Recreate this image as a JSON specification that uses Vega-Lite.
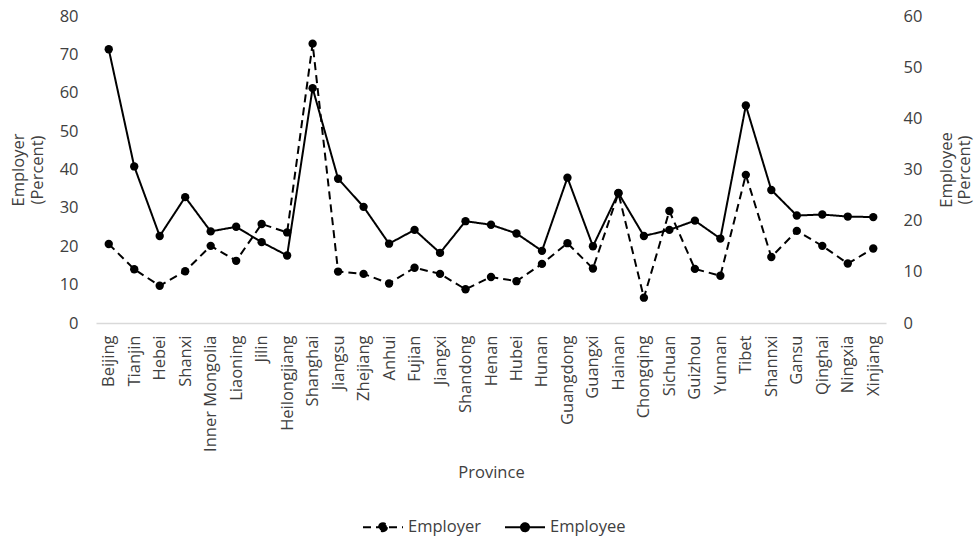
{
  "$schema": "https://vega.github.io/schema/vega-lite/v6.json",
  "width": 790,
  "height": 307,
  "autosize": {"type": "none"},
  "padding": {"left": 96, "top": 16, "right": 90, "bottom": 215},
  "background": "white",
  "config": {
    "view": {"stroke": null},
    "font": "Open Sans",
    "axis": {
      "labelFont": "Open Sans",
      "titleFont": "Open Sans",
      "labelColor": "#404040",
      "titleColor": "#404040",
      "labelFontSize": 16.5,
      "titleFontSize": 16.5,
      "titleFontWeight": "normal",
      "grid": false,
      "ticks": false
    },
    "legend": {
      "labelFont": "Open Sans",
      "labelFontSize": 16.5,
      "labelColor": "#404040"
    }
  },
  "data": {
    "values": [
      {"province": "Beijing", "employer": 20.6, "employee": 53.5},
      {"province": "Tianjin", "employer": 14.0, "employee": 30.6},
      {"province": "Hebei", "employer": 9.7, "employee": 17.0},
      {"province": "Shanxi", "employer": 13.5, "employee": 24.6},
      {"province": "Inner Mongolia", "employer": 20.1, "employee": 17.9},
      {"province": "Liaoning", "employer": 16.2, "employee": 18.8},
      {"province": "Jilin", "employer": 25.8, "employee": 15.8},
      {"province": "Heilongjiang", "employer": 23.6, "employee": 13.2},
      {"province": "Shanghai", "employer": 72.8, "employee": 45.9},
      {"province": "Jiangsu", "employer": 13.4, "employee": 28.2},
      {"province": "Zhejiang", "employer": 12.8, "employee": 22.7},
      {"province": "Anhui", "employer": 10.3, "employee": 15.5},
      {"province": "Fujian", "employer": 14.4, "employee": 18.2},
      {"province": "Jiangxi", "employer": 12.8, "employee": 13.7},
      {"province": "Shandong", "employer": 8.8, "employee": 19.9},
      {"province": "Henan", "employer": 12.0, "employee": 19.2},
      {"province": "Hubei", "employer": 10.9, "employee": 17.5},
      {"province": "Hunan", "employer": 15.4, "employee": 14.1},
      {"province": "Guangdong", "employer": 20.8, "employee": 28.4},
      {"province": "Guangxi", "employer": 14.2, "employee": 15.0},
      {"province": "Hainan", "employer": 33.8, "employee": 25.4},
      {"province": "Chongqing", "employer": 6.6, "employee": 17.0},
      {"province": "Sichuan", "employer": 29.2, "employee": 18.2},
      {"province": "Guizhou", "employer": 14.1, "employee": 20.0},
      {"province": "Yunnan", "employer": 12.3, "employee": 16.5},
      {"province": "Tibet", "employer": 38.6, "employee": 42.5},
      {"province": "Shannxi", "employer": 17.2, "employee": 26.0},
      {"province": "Gansu", "employer": 24.0, "employee": 21.0},
      {"province": "Qinghai", "employer": 20.1, "employee": 21.2},
      {"province": "Ningxia", "employer": 15.5, "employee": 20.8},
      {"province": "Xinjiang", "employer": 19.4, "employee": 20.7}
    ]
  },
  "encoding": {
    "x": {
      "field": "province",
      "type": "nominal",
      "sort": null,
      "scale": {"type": "point", "padding": 0.5},
      "axis": {
        "title": "Province",
        "labelAngle": -90,
        "labelPadding": 12,
        "titlePadding": 13,
        "domainColor": "#d9d9d9",
        "domainWidth": 1.5
      }
    }
  },
  "layer": [
    {
      "encoding": {
        "y": {
          "field": "employer",
          "type": "quantitative",
          "scale": {"domain": [0, 80], "nice": false},
          "axis": {
            "title": ["Employer", "(Percent)"],
            "orient": "left",
            "domain": false,
            "tickCount": 8,
            "labelPadding": 18,
            "titlePadding": 14
          }
        }
      },
      "layer": [
        {
          "mark": {"type": "line", "color": "black", "strokeWidth": 2},
          "encoding": {
            "strokeDash": {
              "datum": "Employer",
              "scale": {"domain": ["Employer", "Employee"], "range": [[8, 5], [1, 0]]},
              "legend": {
                "title": null,
                "orient": "none",
                "legendX": 266,
                "legendY": 490,
                "direction": "horizontal",
                "symbolType": "M -1 0 L 1 0 M 0.2 0 A 0.2 0.2 0 1 1 -0.2 0 A 0.2 0.2 0 1 1 0.2 0 Z",
                "symbolSize": 1600,
                "symbolStrokeWidth": 2,
                "symbolStrokeColor": "black",
                "symbolFillColor": "black",
                "columnPadding": 20,
                "labelOffset": 4,
                "encode": {
                  "symbols": {
                    "update": {
                      "strokeDash": {"signal": "datum.value === 'Employer' ? [10, 20] : [1, 0]"}
                    }
                  }
                }
              }
            }
          }
        },
        {
          "mark": {"type": "point", "filled": true, "color": "black", "size": 70, "opacity": 1}
        }
      ]
    },
    {
      "encoding": {
        "y": {
          "field": "employee",
          "type": "quantitative",
          "scale": {"domain": [0, 60], "nice": false},
          "axis": {
            "title": ["Employee", "(Percent)"],
            "orient": "right",
            "domain": false,
            "tickCount": 6,
            "labelPadding": 17,
            "titleAngle": -90,
            "titlePadding": 14
          }
        }
      },
      "layer": [
        {
          "mark": {"type": "line", "color": "black", "strokeWidth": 2},
          "encoding": {
            "strokeDash": {"datum": "Employee"}
          }
        },
        {
          "mark": {"type": "point", "filled": true, "color": "black", "size": 70, "opacity": 1}
        }
      ]
    }
  ],
  "resolve": {"scale": {"y": "independent"}}
}
